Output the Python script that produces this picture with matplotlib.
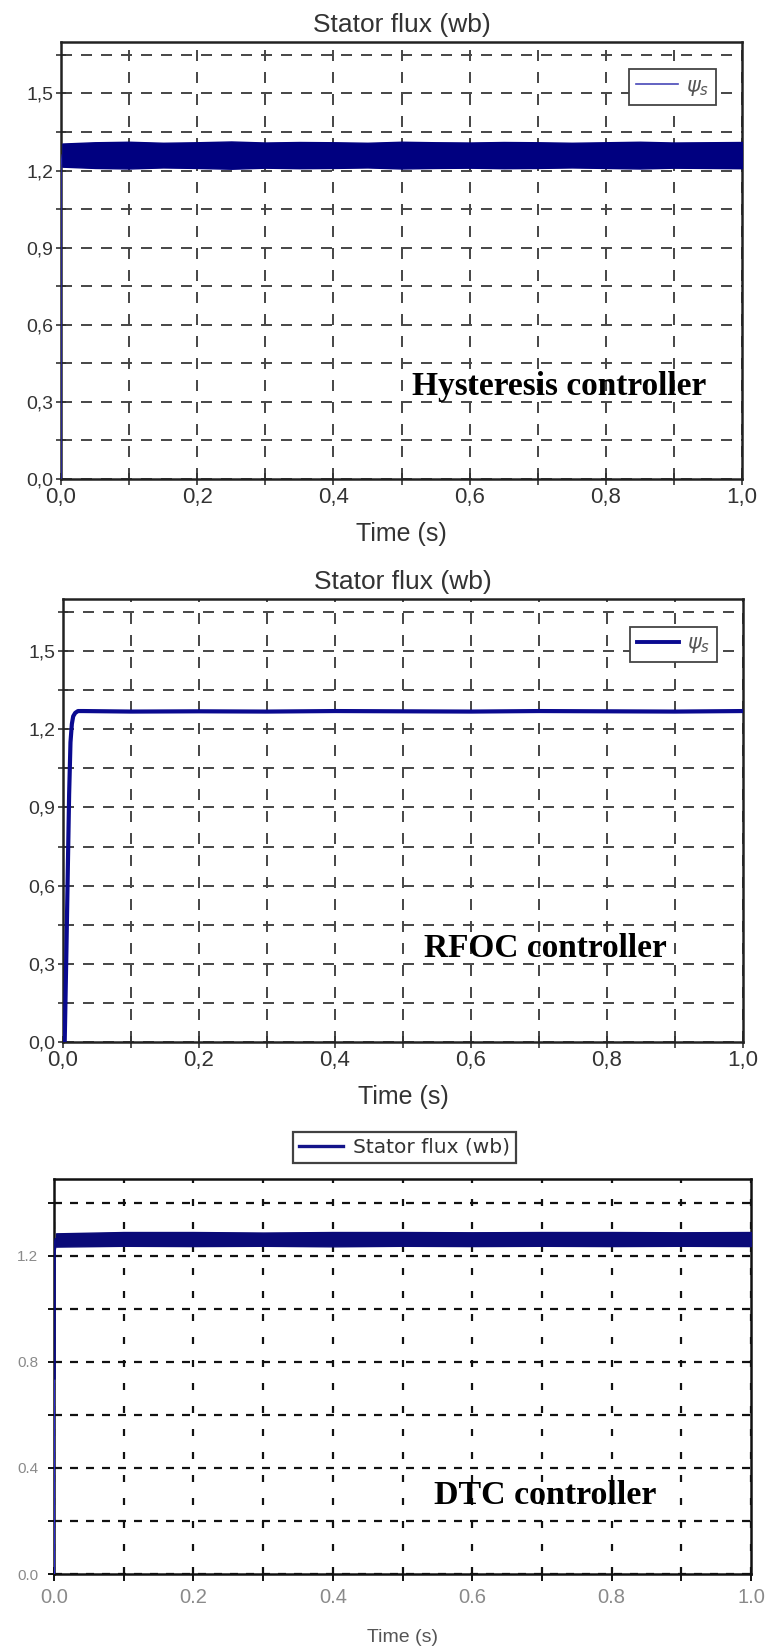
import matplotlib
matplotlib.use("Agg")
import matplotlib.pyplot as plt
from matplotlib.ticker import FixedLocator, FixedFormatter
from matplotlib.lines import Line2D

plt.rcParams['lines.scale_dashes'] = False
plt.rcParams['font.family'] = ['Liberation Sans', 'DejaVu Sans']

# ---------------- data ----------------
# Hysteresis controller (top panel)
hyst_rise_t = [0.0, 0.0, 0.002]
hyst_rise_v = [0.0, 1.22, 1.26]
hyst_t = [0.002, 0.05, 0.1, 0.15, 0.2, 0.25, 0.3, 0.35, 0.4, 0.45, 0.5,
          0.55, 0.6, 0.65, 0.7, 0.75, 0.8, 0.85, 0.9, 0.95, 1.0]
hyst_upper = [1.305, 1.31, 1.312, 1.308, 1.31, 1.313, 1.309, 1.311, 1.31, 1.308, 1.312,
              1.31, 1.309, 1.311, 1.31, 1.308, 1.31, 1.312, 1.309, 1.31, 1.311]
hyst_lower = [1.215, 1.21, 1.208, 1.212, 1.21, 1.207, 1.211, 1.209, 1.21, 1.212, 1.208,
              1.21, 1.211, 1.209, 1.21, 1.212, 1.21, 1.208, 1.211, 1.21, 1.209]

# RFOC controller (middle panel)
rfoc_t = [0.0, 0.0025, 0.005, 0.007, 0.009, 0.011, 0.013, 0.015, 0.018, 0.022, 0.03,
          0.1, 0.2, 0.3, 0.4, 0.5, 0.6, 0.7, 0.8, 0.9, 1.0]
rfoc_v = [0.0, 0.0, 0.35, 0.65, 0.95, 1.15, 1.22, 1.25, 1.263, 1.27, 1.27,
          1.268, 1.269, 1.268, 1.27, 1.269, 1.268, 1.27, 1.269, 1.268, 1.27]

# DTC controller (bottom panel)
dtc_rise_t = [0.0, 0.0]
dtc_rise_v = [0.0, 0.74]
dtc_osc_t = [0.0, 0.0, 0.003]
dtc_osc_v = [0.74, 1.22, 1.26]
dtc_t = [0.003, 0.1, 0.2, 0.3, 0.4, 0.5, 0.6, 0.7, 0.8, 0.9, 1.0]
dtc_upper = [1.285, 1.29, 1.29, 1.288, 1.29, 1.29, 1.289, 1.29, 1.29, 1.289, 1.29]
dtc_lower = [1.235, 1.238, 1.237, 1.238, 1.236, 1.238, 1.237, 1.238, 1.237, 1.238, 1.237]

# ticks / labels
xt_major = [0.0, 0.2, 0.4, 0.6, 0.8, 1.0]
xt_minor = [0.1, 0.3, 0.5, 0.7, 0.9]
xt_labels_comma = ['0,0', '0,2', '0,4', '0,6', '0,8', '1,0']
xt_labels_dot = ['0.0', '0.2', '0.4', '0.6', '0.8', '1.0']
yt_major_12 = [0.0, 0.3, 0.6, 0.9, 1.2, 1.5]
yt_minor_12 = [0.15, 0.45, 0.75, 1.05, 1.35, 1.65]
yt_labels_12 = ['0,0', '0,3', '0,6', '0,9', '1,2', '1,5']
yt_major_3 = [0.0, 0.4, 0.8, 1.2]
yt_minor_3 = [0.2, 0.6, 1.0, 1.4]
yt_labels_3 = ['0.0', '0.4', '0.8', '1.2']

title_text = 'Stator flux (wb)'
xlabel_text = 'Time (s)'
legend_psi = r'$\psi_s$'
legend_dtc = 'Stator flux (wb)'
ann_texts = ['Hysteresis controller', 'RFOC controller', 'DTC controller']

# ---------------- figure ----------------
W, H = 766, 1650
fig = plt.figure(figsize=(W / 100, H / 100), dpi=100)


def frac(l, t, r, b):
    return [l / W, 1 - b / H, (r - l) / W, (b - t) / H]


px = 0.72  # points per pixel
navy = '#000080'


def style_top(ax):
    ax.set_xlim(0, 1.0)
    ax.set_ylim(0, 1.7)
    ax.xaxis.set_major_locator(FixedLocator(xt_major))
    ax.xaxis.set_major_formatter(FixedFormatter(xt_labels_comma))
    ax.xaxis.set_minor_locator(FixedLocator(xt_minor))
    ax.yaxis.set_major_locator(FixedLocator(yt_major_12))
    ax.yaxis.set_major_formatter(FixedFormatter(yt_labels_12))
    ax.yaxis.set_minor_locator(FixedLocator(yt_minor_12))
    ax.grid(True, which='both', axis='y', color='#454545', linewidth=1.4,
            linestyle=(0, (11 * px, 9 * px)))
    ax.grid(True, which='both', axis='x', color='#454545', linewidth=1.4,
            linestyle=(0, (11 * px, 11 * px)))
    for s in ax.spines.values():
        s.set_linewidth(1.8)
        s.set_color('#222222')
    ax.tick_params(axis='x', which='both', direction='inout', length=8, width=1.2,
                   color='#333333', labelsize=16, labelcolor='#333333', pad=2)
    ax.tick_params(axis='y', which='both', direction='inout', length=7, width=1.2,
                   color='#333333', labelsize=14, labelcolor='#333333', pad=2)
    ax.set_title(title_text, fontsize=19, color='#333333', pad=7)
    ax.set_xlabel(xlabel_text, fontsize=18, color='#333333', labelpad=10)
    ax.set_axisbelow(True)


def psi_legend(ax, handle):
    leg = ax.legend([handle], [legend_psi], loc='center', bbox_to_anchor=(0.898, 0.897),
                    fontsize=15, frameon=True, fancybox=False, edgecolor='#444444',
                    handlelength=2.0, handletextpad=0.4, borderpad=0.35,
                    labelcolor='#555555')
    leg.get_frame().set_linewidth(1.3)
    leg.get_frame().set_alpha(1)
    return leg


# ---- panel 1 ----
ax1 = fig.add_axes(frac(61, 42, 742, 479))
style_top(ax1)
ax1.plot(hyst_rise_t, hyst_rise_v, color='#2a2aa8', linewidth=1.2, zorder=3)
ax1.fill_between(hyst_t, hyst_lower, hyst_upper, color=navy, linewidth=1.0,
                 edgecolor=navy, zorder=3)
psi_legend(ax1, Line2D([], [], color='#4848b8', linewidth=1.2))
ax1.annotate(ann_texts[0], xy=(559 / W, 1 - 395 / H), xycoords='figure fraction',
             ha='center', va='baseline', fontsize=24, fontweight='bold',
             family='Liberation Serif', color='black')

# ---- panel 2 ----
ax2 = fig.add_axes(frac(63, 599, 743, 1042))
style_top(ax2)
ax2.plot(rfoc_t, rfoc_v, color='#0a0a90', linewidth=3.0, zorder=3)
psi_legend(ax2, Line2D([], [], color='#0a0a90', linewidth=2.8))
ax2.annotate(ann_texts[1], xy=(545 / W, 1 - 957 / H), xycoords='figure fraction',
             ha='center', va='baseline', fontsize=24, fontweight='bold',
             family='Liberation Serif', color='black')

# ---- panel 3 ----
ax3 = fig.add_axes(frac(54, 1179, 751, 1574))
ax3.set_xlim(0, 1.0)
ax3.set_ylim(0, 1.49)
ax3.xaxis.set_major_locator(FixedLocator(xt_major))
ax3.xaxis.set_major_formatter(FixedFormatter(xt_labels_dot))
ax3.xaxis.set_minor_locator(FixedLocator(xt_minor))
ax3.yaxis.set_major_locator(FixedLocator(yt_major_3))
ax3.yaxis.set_major_formatter(FixedFormatter(yt_labels_3))
ax3.yaxis.set_minor_locator(FixedLocator(yt_minor_3))
ax3.grid(True, which='both', axis='y', color='#111111', linewidth=1.6,
         linestyle=(0, (8 * px, 8 * px)))
ax3.grid(True, which='both', axis='x', color='#111111', linewidth=1.6,
         linestyle=(0, (7 * px, 16 * px)))
for s in ax3.spines.values():
    s.set_linewidth(1.8)
    s.set_color('#111111')
ax3.tick_params(axis='x', which='both', direction='inout', length=10, width=1.4,
                color='#111111', labelsize=14.5, labelcolor='#8a8a8a', pad=5)
ax3.tick_params(axis='y', which='both', direction='inout', length=9, width=1.4,
                color='#111111', labelsize=11, labelcolor='#8a8a8a', pad=7)
for lab in ax3.get_xticklabels():
    lab.set_family(['Liberation Sans Narrow', 'Liberation Sans'])
ax3.set_xlabel(xlabel_text, fontsize=14, color='#555555', labelpad=16)
ax3.set_axisbelow(True)
ax3.plot(dtc_rise_t, dtc_rise_v, color='#2a2ad0', linewidth=1.6, zorder=3)
ax3.plot(dtc_osc_t, dtc_osc_v, color='#0a0a80', linewidth=2.6, zorder=3)
ax3.fill_between(dtc_t, dtc_lower, dtc_upper, color='#0a0a78', linewidth=1.0,
                 edgecolor='#0a0a78', zorder=3)
h3 = Line2D([], [], color='#14148a', linewidth=2.4)
leg3 = ax3.legend([h3], [legend_dtc], loc='center', bbox_to_anchor=(0.503, 1.08),
                  frameon=True, fancybox=False, edgecolor='#111111',
                  handlelength=2.2, handletextpad=0.5, borderpad=0.3, labelcolor='#333333',
                  prop={'family': 'DejaVu Sans', 'size': 14.5})
leg3.get_frame().set_linewidth(1.6)
ax3.annotate(ann_texts[2], xy=(545 / W, 1 - 1504 / H), xycoords='figure fraction',
             ha='center', va='baseline', fontsize=24.5, fontweight='bold',
             family='Liberation Serif', color='black')

fig.savefig('out.png', dpi=100)
